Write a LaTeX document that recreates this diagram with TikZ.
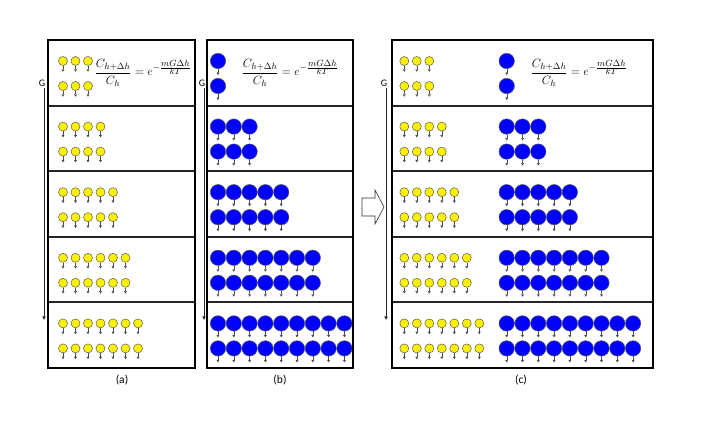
\documentclass[tikz,border=0pt]{standalone}
\usepackage{amsmath}
\usepackage{fontspec}
\newfontfamily\lblfont{Carlito}
\usetikzlibrary{arrows.meta}

\begin{document}
\begin{tikzpicture}[x=1pt,y=-1pt]
\tikzset{
  yball/.style={circle,draw=black!65,fill=yellow,inner sep=0pt,minimum size=9pt,line width=.5pt},
  bball/.style={circle,draw=black!65,fill=blue,inner sep=0pt,minimum size=15.4pt,line width=.5pt},
  fall/.style={-{Triangle[length=2.4pt,width=2.8pt]},line width=.35pt,draw=black!70},
  garrow/.style={-{Triangle[length=3.5pt,width=3pt]},line width=.8pt,black!85},
  panel/.style={line width=2.8pt},
  divider/.style={line width=2pt,black!85},
  lbl/.style={font=\lblfont\fontsize{10}{12}\selectfont,inner sep=1pt},
  caption/.style={font=\lblfont\fontsize{11.5}{13}\selectfont,inner sep=1pt},
  eqn/.style={font=\fontsize{12.5}{15}\selectfont}
}
\useasboundingbox (0,0) rectangle (702,422);

% layers
\foreach \xl/\xr in {48/195,207/353,392/653}
  \foreach \ly in {106,171,237,302}
    \draw[divider] (\xl,\ly) -- (\xr,\ly);

% particles, each with its weight
\foreach \r in {1,...,5}{
  \pgfmathsetmacro\rowy{40+65.6*(\r-1)}
  \pgfmathtruncatemacro\ny{\r+2}
  \pgfmathtruncatemacro\nb{2*\r-1}
  \foreach \j/\dy in {1/21,2/46}{
    \foreach \k in {1,...,\ny}{
      \node[yball] (ya-\r-\j-\k) at ({63+12.5*(\k-1)},{\rowy+\dy}) {};
      \draw[fall] (ya-\r-\j-\k.south) -- ++(0,6);
      \node[yball] (yc-\r-\j-\k) at ({404.3+12.5*(\k-1)},{\rowy+\dy}) {};
      \draw[fall] (yc-\r-\j-\k.south) -- ++(0,6);
    }
    \foreach \k in {1,...,\nb}{
      \node[bball] (bb-\r-\j-\k) at ({218+15.8*(\k-1)},{\rowy+\dy}) {};
      \draw[fall] (bb-\r-\j-\k.south) -- ++(0,6);
      \node[bball] (bc-\r-\j-\k) at ({506.7+15.8*(\k-1)},{\rowy+\dy}) {};
      \draw[fall] (bc-\r-\j-\k.south) -- ++(0,6);
    }
  }
}

% boxes
\draw[panel] (48,40) rectangle (195,368);
\draw[panel] (207,40) rectangle (353,368);
\draw[panel] (392,40) rectangle (653,368);

% distribution law
\newcommand\distlaw{$\dfrac{C_{h+\Delta h}}{C_h} = e^{-\frac{\scriptstyle mG\Delta h}{\scriptstyle kT}}$}
\node[eqn] (eqa) at (143,73) {\distlaw};
\node[eqn] (eqb) at (290,73) {\distlaw};
\node[eqn] (eqc) at (579,73) {\distlaw};

% gravity
\node[lbl,anchor=south] (ga) at (42,88) {G};
\draw[garrow] ([xshift=2pt]ga.south) -- ([xshift=2pt]ga.south |- 0,320);
\node[lbl,anchor=south] (gb) at (202,88) {G};
\draw[garrow] ([xshift=2pt]gb.south) -- ([xshift=2pt]gb.south |- 0,320);
\node[lbl,anchor=south] (gc) at (384,88) {G};
\draw[garrow] ([xshift=2pt]gc.south) -- ([xshift=2pt]gc.south |- 0,320);

% hollow arrow
\draw[fill=white,draw=black!80,line width=.6pt] (362,198) -- (375,198) -- (375,190) -- (384,207)
  -- (375,224) -- (375,216) -- (362,216) -- cycle;

% captions
\node[caption] (capa) at (122,380) {(a)};
\node[caption] (capb) at (280,380) {(b)};
\node[caption] (capc) at (521,380) {(c)};
\end{tikzpicture}
\end{document}
